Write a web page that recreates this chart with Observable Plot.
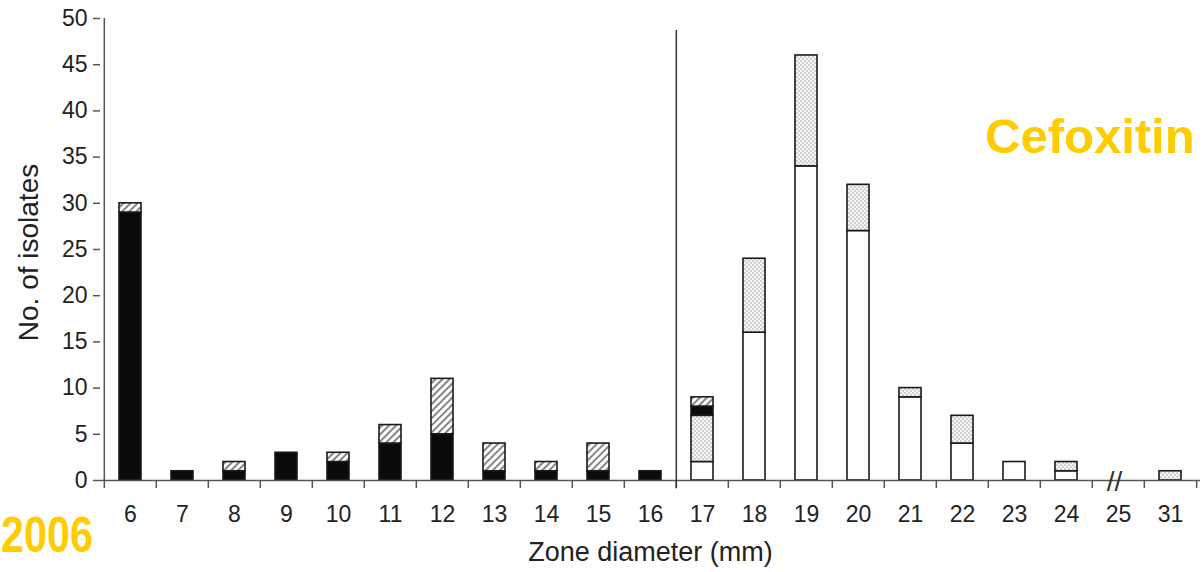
<!DOCTYPE html>
<html><head><meta charset="utf-8">
<script src="https://cdn.jsdelivr.net/npm/d3@7"></script>
<script src="https://cdn.jsdelivr.net/npm/@observablehq/plot@0.6"></script>
<style>html,body{margin:0;padding:0;background:#fff;} #chart{position:relative;width:1203px;height:572px;overflow:hidden;}</style>
</head><body><div id="chart"></div>
<script>
// Zone diameter categories (x tick labels)
const zones = ["6","7","8","9","10","11","12","13","14","15","16","17","18","19","20","21","22","23","24","25","31"];
// Stacked series (bottom to top)
const seriesNames = ["Open", "Stippled", "Solid", "Hatched"];
const openValues     = [0,0,0,0,0,0,0,0,0,0,0,2,16,34,27,9,4,2,1,0,0];
const stippledValues = [0,0,0,0,0,0,0,0,0,0,0,5,8,12,5,1,3,0,1,0,1];
const solidValues    = [29,1,1,3,2,4,5,1,1,1,1,1,0,0,0,0,0,0,0,0,0];
const hatchedValues  = [1,0,1,0,1,2,6,3,1,3,0,1,0,0,0,0,0,0,0,0,0];
const yTicks = [0,5,10,15,20,25,30,35,40,45,50];
const xTitle = "Zone diameter (mm)";
const yTitle = "No. of isolates";
const breakpointZone = "17";
const axisBreakZone = "25";

const seriesValues = [openValues, stippledValues, solidValues, hatchedValues];
const rows = [];
zones.forEach((z, i) => seriesNames.forEach((s, j) => {
  const v = seriesValues[j][i];
  if (v > 0) rows.push({zone: z, series: s, count: v});
}));

const W = 1203, H = 572, mL = 100, mR = 3, mT = 18, mB = 92;
const step = (W - mL - mR) / zones.length;
const axisColor = "#555";
const font = "'Liberation Sans', Arial, sans-serif";

const plot = Plot.plot({
  width: W, height: H,
  marginLeft: mL, marginRight: mR, marginTop: mT, marginBottom: mB,
  style: {fontFamily: font, fontSize: "23px", background: "white", color: "#222"},
  x: {domain: zones, paddingInner: 0.58, paddingOuter: 0.29},
  y: {domain: [0, 50]},
  color: {domain: seriesNames, range: ["white", "url(#dots)", "#0a0a0a", "url(#hatch)"]},
  marks: [
    Plot.axisY({ticks: yTicks, tickSize: 7, tickPadding: 6, label: null, stroke: axisColor, strokeWidth: 1.5}),
    Plot.axisX({tickSize: 0, tickPadding: 25, label: null}),
    Plot.barY(rows, {x: "zone", y: "count", fill: "series", stroke: "#1a1a1a", strokeWidth: 1.6, order: seriesNames}),
    // axis lines
    Plot.ruleY([0], {stroke: axisColor, strokeWidth: 1.5}),
    Plot.ruleX([zones[0]], {x: d => d, dx: -step / 2, y1: 0, y2: 50, stroke: axisColor, strokeWidth: 1.5}),
    // boundary ticks on x axis
    Plot.ruleX(zones, {x: d => d, dx: -step / 2, y1: 0, y2: -0.87, stroke: axisColor, strokeWidth: 1.5}),
    Plot.ruleX([zones[zones.length - 1]], {x: d => d, dx: step / 2, y1: 0, y2: -0.87, stroke: axisColor, strokeWidth: 1.5}),
    // breakpoint divider
    Plot.ruleX([breakpointZone], {x: d => d, dx: -step / 2, y1: -0.9, y2: 48.7, stroke: "#333", strokeWidth: 1.5}),
    // axis break
    Plot.text([axisBreakZone], {x: d => d, y: 0, text: () => "//", dx: -4, dy: 2, fontSize: 28, fill: "#333", textAnchor: "middle", lineAnchor: "middle"}),
    // axis titles
    Plot.text([xTitle], {frameAnchor: "bottom", text: d => d, dy: 80, fontSize: 27, fill: "#222", textAnchor: "middle"}),
    Plot.text([yTitle], {frameAnchor: "left", text: d => d, rotate: -90, dx: -71, dy: 3, fontSize: 28, fill: "#222", textAnchor: "middle", lineAnchor: "middle"})
  ]
});

const svg = d3.select(plot);
const defs = svg.insert("defs", ":first-child");
const hatch = defs.append("pattern").attr("id", "hatch").attr("patternUnits", "userSpaceOnUse")
  .attr("width", 5).attr("height", 5).attr("patternTransform", "rotate(45)");
hatch.append("rect").attr("width", 5).attr("height", 5).attr("fill", "white");
hatch.append("line").attr("x1", 1).attr("y1", 0).attr("x2", 1).attr("y2", 5).attr("stroke", "#777").attr("stroke-width", 1.8);
const dots = defs.append("pattern").attr("id", "dots").attr("patternUnits", "userSpaceOnUse")
  .attr("width", 4).attr("height", 4);
dots.append("rect").attr("width", 4).attr("height", 4).attr("fill", "#f6f6f6");
dots.append("circle").attr("cx", 1).attr("cy", 1).attr("r", 0.75).attr("fill", "#999");
dots.append("circle").attr("cx", 3).attr("cy", 3).attr("r", 0.75).attr("fill", "#999");

// slide overlay labels
svg.append("text").attr("x", 985).attr("y", 153).attr("text-anchor", "start")
  .attr("font-size", 49).attr("font-weight", "bold")
  .attr("fill", "#FFCC00").attr("font-family", font).text("Cefoxitin");
svg.append("text").attr("x", 1).attr("y", 552).attr("text-anchor", "start")
  .attr("font-size", 50).attr("font-weight", "bold").attr("textLength", 92).attr("lengthAdjust", "spacingAndGlyphs")
  .attr("fill", "#FFCC00").attr("font-family", font).text("2006");

document.getElementById("chart").appendChild(plot);
</script>
</body></html>
